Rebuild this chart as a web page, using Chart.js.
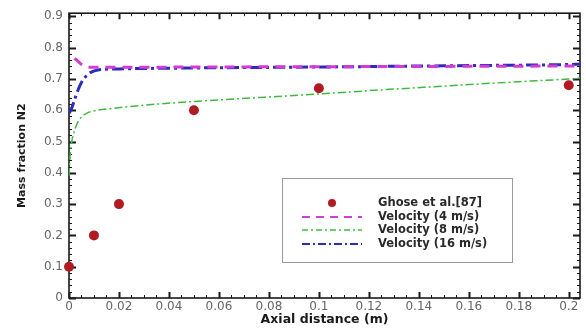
<!DOCTYPE html>
<html>
<head>
<meta charset="utf-8">
<script src="https://cdn.jsdelivr.net/npm/chart.js@4.4.1/dist/chart.umd.min.js"></script>
<style>
  html, body { margin: 0; padding: 0; background: #ffffff; }
  #wrap { width: 586px; height: 332px; }
</style>
</head>
<body>
<div id="wrap"><canvas id="c" width="586" height="332"></canvas></div>
<script>
// Series labels
const seriesNames = ['Ghose et al.[87]', 'Velocity (4 m/s)', 'Velocity (8 m/s)', 'Velocity (16 m/s)'];

// Experimental points (Ghose et al.)
const ghoseX = [0, 0.01, 0.02, 0.05, 0.1, 0.2];
const ghoseY = [0.1, 0.2, 0.3, 0.6, 0.67, 0.68];

// Simulated N2 mass fraction along the axis, inlet velocity 4 m/s
const v4X = [0.0022, 0.0035, 0.005, 0.0065, 0.009, 0.02, 0.05, 0.1, 0.15, 0.2, 0.2045];
const v4Y = [0.766, 0.757, 0.746, 0.739, 0.737, 0.737, 0.738, 0.739, 0.740, 0.741, 0.741];

// Inlet velocity 8 m/s
const v8X = [0, 0.0005, 0.001, 0.002, 0.003, 0.0045, 0.007, 0.01, 0.019, 0.03, 0.05, 0.075, 0.1, 0.125, 0.15, 0.175, 0.2, 0.2045];
const v8Y = [0.39, 0.46, 0.495, 0.53, 0.553, 0.574, 0.59, 0.598, 0.607, 0.616, 0.628, 0.64, 0.652, 0.665, 0.677, 0.689, 0.700, 0.703];

// Inlet velocity 16 m/s
const v16X = [0, 0.001, 0.0025, 0.004, 0.0055, 0.007, 0.0085, 0.012, 0.02, 0.05, 0.1, 0.15, 0.2, 0.2045];
const v16Y = [0.59, 0.605, 0.64, 0.672, 0.696, 0.71, 0.72, 0.729, 0.732, 0.735, 0.738, 0.742, 0.746, 0.747];

// Axis ticks
const xTicks = [0, 0.02, 0.04, 0.06, 0.08, 0.1, 0.12, 0.14, 0.16, 0.18, 0.2];
const xTickLabels = ['0', '0.02', '0.04', '0.06', '0.08', '0.1', '0.12', '0.14', '0.16', '0.18', '0.2'];
const yTicks = [0, 0.1, 0.2, 0.3, 0.4, 0.5, 0.6, 0.7, 0.8, 0.9];
const yTickLabels = ['0', '0.1', '0.2', '0.3', '0.4', '0.5', '0.6', '0.7', '0.8', '0.9'];

const toPoints = (xs, ys) => xs.map((x, i) => ({ x: x, y: ys[i] }));

// Boxed frame with inward major/minor ticks on all four sides
const framePlugin = {
  id: 'frame',
  beforeDatasetsDraw(chart) {
    const { ctx, chartArea: a, scales: { x, y } } = chart;
    ctx.save();
    ctx.strokeStyle = '#1a1a1a';
    const xMax = x.max, yMax = y.max;
    // x minor every 0.005, major every 0.02
    for (let k = 0; k * 0.005 <= xMax + 1e-9; k++) {
      const v = k * 0.005;
      const px = Math.round(x.getPixelForValue(v)) + 0.5;
      const len = (k % 4 === 0) ? 6 : 3;
      ctx.lineWidth = (k % 4 === 0) ? 2 : 1;
      ctx.beginPath();
      ctx.moveTo(px, a.bottom); ctx.lineTo(px, a.bottom - len);
      ctx.moveTo(px, a.top); ctx.lineTo(px, a.top + len);
      ctx.stroke();
    }
    // y minor every 0.02, major every 0.1
    for (let k = 0; k * 0.02 <= yMax + 1e-9; k++) {
      const v = k * 0.02;
      const py = Math.round(y.getPixelForValue(v)) + 0.5;
      const len = (k % 5 === 0) ? 7 : 3;
      ctx.lineWidth = (k % 5 === 0) ? 2 : 1;
      ctx.beginPath();
      ctx.moveTo(a.left, py); ctx.lineTo(a.left + len, py);
      ctx.moveTo(a.right, py); ctx.lineTo(a.right - len, py);
      ctx.stroke();
    }
    ctx.lineWidth = 1.6;
    ctx.strokeRect(a.left, a.top, a.right - a.left, a.bottom - a.top);
    ctx.restore();
  }
};

// Legend box drawn inside the plot area
const insideLegend = {
  id: 'insideLegend',
  afterDraw(chart) {
    const { ctx } = chart;
    const box = { l: 282, t: 178, r: 512, b: 262 };
    ctx.save();
    ctx.fillStyle = '#ffffff';
    ctx.fillRect(box.l, box.t, box.r - box.l, box.b - box.t);
    ctx.strokeStyle = '#9a9a9a';
    ctx.lineWidth = 1;
    ctx.strokeRect(box.l + 0.5, box.t + 0.5, box.r - box.l, box.b - box.t);
    const rows = [203, 217, 230, 244];
    const x0 = 302, x1 = 362, tx = 378;
    chart.data.datasets.forEach((ds, i) => {
      const yy = rows[i];
      if (ds.showLine === false) {
        ctx.fillStyle = ds.backgroundColor;
        ctx.beginPath();
        ctx.arc((x0 + x1) / 2, yy, 4, 0, Math.PI * 2);
        ctx.fill();
      } else {
        ctx.strokeStyle = ds.borderColor;
        ctx.lineWidth = Math.min(ds.borderWidth, 2.2);
        ctx.setLineDash(ds.legendDash || ds.borderDash || []);
        ctx.beginPath();
        ctx.moveTo(x0, yy); ctx.lineTo(x1, yy);
        ctx.stroke();
        ctx.setLineDash([]);
      }
      ctx.fillStyle = '#2a2a2a';
      ctx.font = 'bold 11.5px "DejaVu Sans"';
      ctx.textBaseline = 'middle';
      ctx.textAlign = 'left';
      ctx.fillText(ds.label, tx, yy);
    });
    ctx.restore();
  }
};

new Chart(document.getElementById('c'), {
  type: 'scatter',
  data: {
    datasets: [
      {
        label: seriesNames[0],
        data: toPoints(ghoseX, ghoseY),
        showLine: false,
        pointRadius: 5,
        pointBackgroundColor: '#b01c22',
        backgroundColor: '#b01c22',
        borderColor: '#b01c22',
        pointBorderWidth: 0,
        clip: false
      },
      {
        label: seriesNames[1],
        data: toPoints(v4X, v4Y),
        showLine: true,
        borderColor: '#d23cd6',
        borderWidth: 3,
        borderDash: [10, 7],
        legendDash: [8, 6],
        pointRadius: 0,
        cubicInterpolationMode: 'monotone'
      },
      {
        label: seriesNames[2],
        data: toPoints(v8X, v8Y),
        showLine: true,
        borderColor: '#3cbc3c',
        borderWidth: 1.5,
        borderDash: [8, 3, 2, 3],
        legendDash: [6, 3, 2, 3],
        pointRadius: 0,
        cubicInterpolationMode: 'monotone'
      },
      {
        label: seriesNames[3],
        data: toPoints(v16X, v16Y),
        showLine: true,
        borderColor: '#2b2bbf',
        borderWidth: 3,
        borderDash: [12, 4, 3, 4],
        legendDash: [8, 3, 2, 3],
        pointRadius: 0,
        cubicInterpolationMode: 'monotone'
      }
    ]
  },
  options: {
    responsive: false,
    animation: false,
    devicePixelRatio: 1,
    layout: { padding: { top: 12, right: 6, bottom: 0, left: 0 } },
    plugins: {
      legend: { display: false },
      tooltip: { enabled: false }
    },
    scales: {
      x: {
        type: 'linear',
        min: 0,
        max: 0.2045,
        grid: { display: false, drawTicks: false },
        border: { display: false },
        afterBuildTicks: s => { s.ticks = xTicks.map(v => ({ value: v })); },
        afterFit: s => { s.height = 34; },
        ticks: {
          autoSkip: false,
          maxRotation: 0,
          padding: 2,
          color: '#666666',
          font: { family: '"DejaVu Sans"', size: 12 },
          callback: (v, i) => xTickLabels[i]
        },
        title: {
          display: true,
          text: 'Axial distance (m)',
          color: '#1a1a1a',
          font: { family: '"DejaVu Sans"', size: 12.5, weight: 'bold' },
          padding: { top: 0, bottom: 5 }
        }
      },
      y: {
        type: 'linear',
        min: 0,
        max: 0.91,
        grid: { display: false, drawTicks: false },
        border: { display: false },
        afterBuildTicks: s => { s.ticks = yTicks.map(v => ({ value: v })); },
        afterFit: s => { s.width = 69; },
        ticks: {
          autoSkip: false,
          padding: 6,
          color: '#666666',
          font: { family: '"DejaVu Sans"', size: 12 },
          callback: (v, i) => yTickLabels[i]
        },
        title: {
          display: true,
          text: 'Mass fraction N2',
          color: '#1a1a1a',
          font: { family: '"DejaVu Sans"', size: 11, weight: 'bold' },
          padding: { top: 16, bottom: 0 }
        }
      }
    }
  },
  plugins: [framePlugin, insideLegend]
});
</script>
</body>
</html>
